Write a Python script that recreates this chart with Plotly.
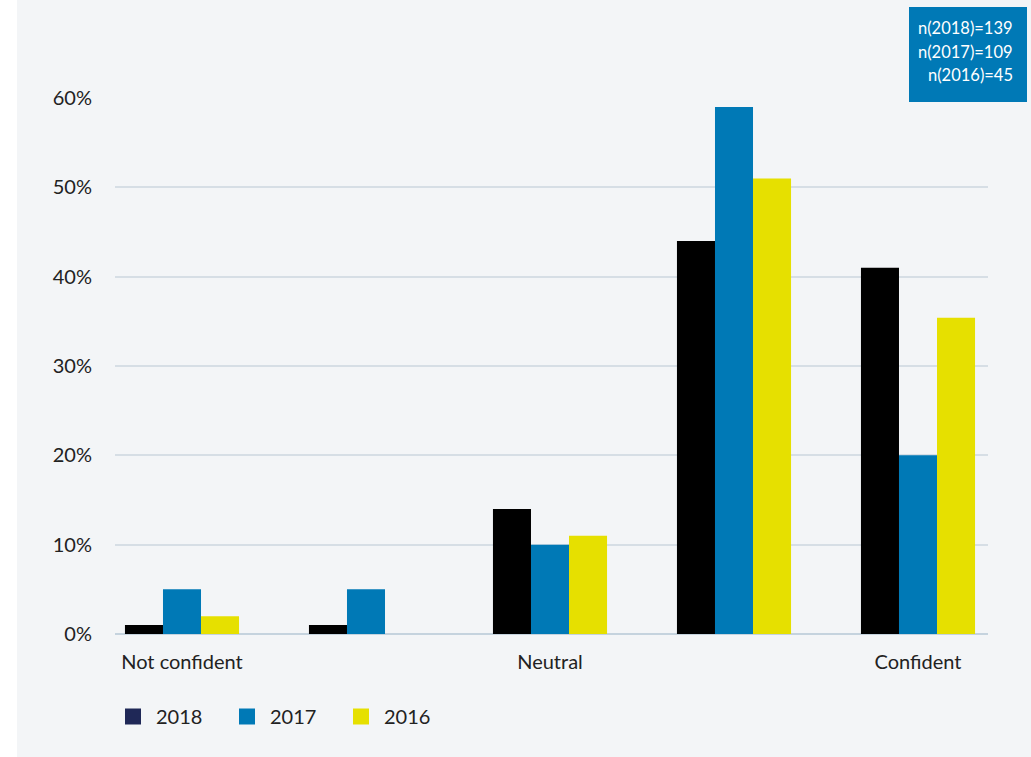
import plotly.graph_objects as go

categories = ["Not confident", "", "Neutral", "", "Confident"]
years = ["2018", "2017", "2016"]
values_2018 = [1, 1, 14, 44, 41]
values_2017 = [5, 5, 10, 59, 20]
values_2016 = [2, 0, 11, 51, 35.4]
y_ticks = [0, 10, 20, 30, 40, 50, 60]
y_tick_labels = ["0%", "10%", "20%", "30%", "40%", "50%", "60%"]
n_labels = ["n(2018)=139", "n(2017)=109", "n(2016)=45"]

bar_colors = ["#000000", "#0079b6", "#e6e000"]
legend_colors = ["#1f2857", "#0079b6", "#e6e000"]
series = [values_2018, values_2017, values_2016]

W, H = 1031, 757
L, R, T, B = 115, 43, 98, 123
pw, ph = W - L - R, H - T - B

def px_x(px):
    return (px - L) / pw

def px_y(py):
    return (H - B - py) / ph

FONT = "Lato"
TXT = "#222222"
xpos = list(range(len(categories)))

fig = go.Figure()
for yr, vals, c in zip(years, series, bar_colors):
    fig.add_trace(go.Bar(x=xpos, y=vals, name=yr, marker=dict(color=c, line=dict(width=0)),
                         showlegend=False))
for yr, c in zip(years, legend_colors):
    fig.add_trace(go.Scatter(x=[None], y=[None], mode="markers", name=yr,
                             marker=dict(symbol="square", size=16, color=c)))

fig.update_layout(
    width=W, height=H,
    margin=dict(l=L, r=R, t=T, b=B, autoexpand=False),
    paper_bgcolor="#ffffff",
    plot_bgcolor="#f3f5f7",
    barmode="group",
    bargap=0.38,
    bargroupgap=0,
    font=dict(family=FONT, size=20, color=TXT),
    showlegend=True,
    legend=dict(orientation="h", x=px_x(110), y=px_y(697), xanchor="left", yanchor="top",
                font=dict(family=FONT, size=20, color=TXT),
                bgcolor="rgba(0,0,0,0)", entrywidth=63, entrywidthmode="pixels",
                itemsizing="trace", itemwidth=36),
    xaxis=dict(range=[(115 - 182) / 184, (988 - 182) / 184], tickmode="array",
               tickvals=xpos, ticktext=categories, showgrid=False, zeroline=False,
               showline=False, ticks="outside", ticklen=10, tickcolor="rgba(0,0,0,0)",
               tickfont=dict(family=FONT, size=20, color=TXT), fixedrange=True),
    yaxis=dict(range=[0, 60], tickmode="array", tickvals=y_ticks, ticktext=y_tick_labels,
               showgrid=True, gridcolor="#d6dee5", gridwidth=1.5,
               zeroline=True, zerolinecolor="#c5d3de", zerolinewidth=2,
               showline=False, ticks="outside", ticklen=18, tickcolor="rgba(0,0,0,0)",
               tickfont=dict(family=FONT, size=20, color=TXT), fixedrange=True),
)

# panel background
fig.add_shape(type="rect", xref="paper", yref="paper",
              x0=px_x(17), x1=px_x(1031), y0=px_y(757), y1=px_y(0),
              fillcolor="#f3f5f7", line=dict(width=0), layer="below")
# n box
fig.add_shape(type="rect", xref="paper", yref="paper",
              x0=px_x(909), x1=px_x(1027), y0=px_y(102), y1=px_y(7),
              fillcolor="#0079b6", line=dict(width=0), layer="above")
for i, t in enumerate(n_labels):
    fig.add_annotation(xref="paper", yref="paper", x=px_x(1015), y=px_y(28 + 23.5 * i),
                       xanchor="right", yanchor="middle", text=t, showarrow=False,
                       font=dict(family=FONT, size=16.5, color="#ffffff"))

fig.write_html("out.html")
